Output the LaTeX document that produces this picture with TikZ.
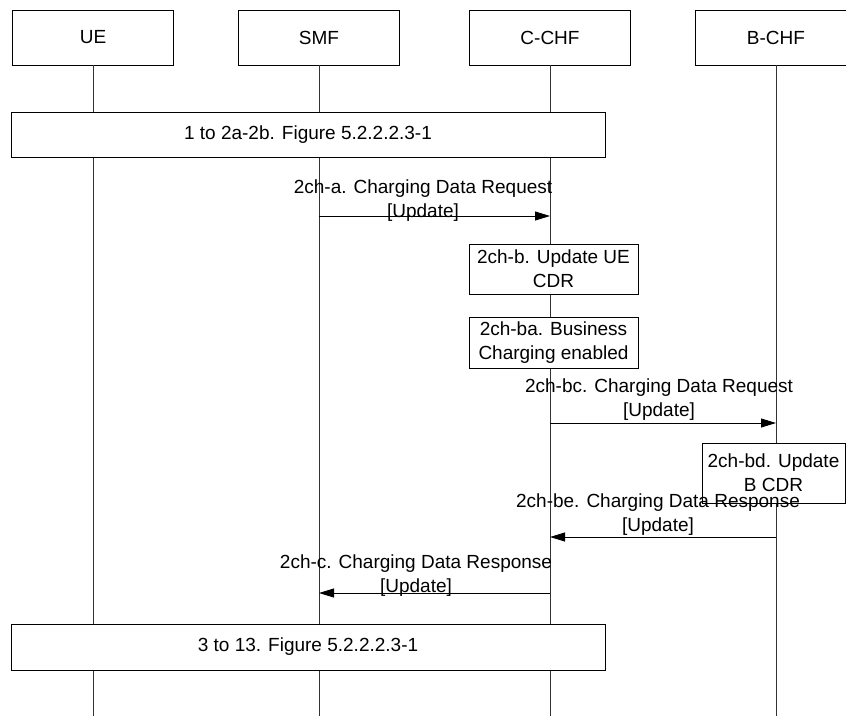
\documentclass[tikz,border=0pt]{standalone}
\usepackage{fontspec}
\setmainfont{Liberation Sans}
\usetikzlibrary{arrows.meta}
\begin{document}
\begin{tikzpicture}[x=1pt,y=-1pt, line width=0.9pt,
  every node/.style={font=\fontsize{19}{24}\selectfont, inner sep=0pt},
  actor/.style={draw,fill=white,minimum width=161pt,minimum height=55pt},
  stepbox/.style={draw,fill=white,align=center},
  msg/.style={-{Triangle[length=15pt,width=9pt]}},
  life/.style={black!80}]
  \clip (0,0) rectangle (846,716);
  % participants
  \node[actor] (ue) at (93,37.5) {UE};
  \node[actor] (smf) at (319,37.5) {SMF};
  \node[actor] (cchf) at (550,37.5) {C-CHF};
  \node[actor] (bchf) at (776,37.5) {B-CHF};
  \coordinate (bottom) at (0,716);
  \foreach \n in {ue,smf,cchf,bchf} {\draw[life] (\n.south) -- (\n |- bottom);}
  % steps taken from the other figure
  \node[stepbox,minimum width=594pt,minimum height=45pt] (pre) at (308,134.5) {1 to 2a-2b. Figure 5.2.2.2.3-1};
  \node[stepbox,minimum width=594pt,minimum height=46pt] (post) at (308,647) {3 to 13. Figure 5.2.2.2.3-1};
  % local actions
  \node[stepbox,minimum width=169pt,minimum height=50pt] (updue) at (553.5,269) {2ch-b. Update UE\\CDR};
  \node[stepbox,minimum width=169pt,minimum height=51pt] (busy) at (553.5,342.5) {2ch-ba. Business\\Charging enabled};
  \node[stepbox,minimum width=143pt,minimum height=60pt] (updb) at (773.5,473) {2ch-bd. Update\\B CDR};
  % messages
  \coordinate (reqa) at (smf |- 0,216);   \coordinate (reqb) at (cchf |- 0,216);
  \coordinate (reqc) at (cchf |- 0,423);  \coordinate (reqd) at (bchf |- 0,423);
  \coordinate (resa) at (bchf |- 0,537);  \coordinate (resb) at (cchf |- 0,537);
  \coordinate (resc) at (cchf |- 0,593);  \coordinate (resd) at (smf |- 0,593);
  \draw[msg] (reqa) -- (reqb);
  \draw[msg] (reqc) -- (reqd);
  \draw[msg] (resa) -- (resb);
  \draw[msg] (resc) -- (resd);
  \node[align=center] (lreqa) at (423,201) {2ch-a. Charging Data Request\\{[Update]}};
  \node[align=center] (lreqc) at (659,400) {2ch-bc. Charging Data Request\\{[Update]}};
  \node[align=center] (lresa) at (658,514.5) {2ch-be. Charging Data Response\\{[Update]}};
  \node[align=center] (lresc) at (416,575.5) {2ch-c. Charging Data Response\\{[Update]}};
\end{tikzpicture}
\end{document}
